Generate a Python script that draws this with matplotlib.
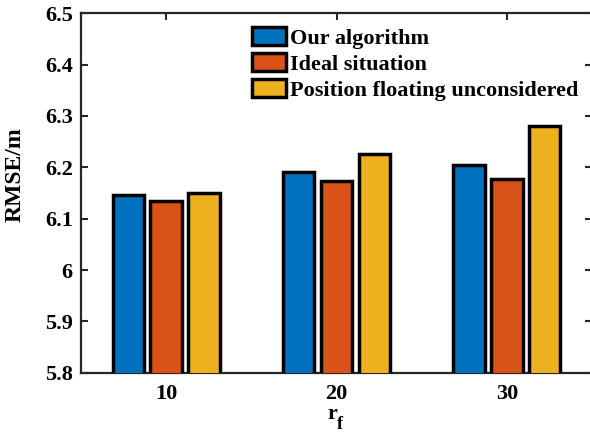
import numpy as np
import matplotlib.pyplot as plt

plt.rcParams['font.family'] = 'Liberation Serif'
plt.rcParams['font.weight'] = 'bold'

rf = [10, 20, 30]
ours = [6.146, 6.190, 6.205]
ideal = [6.134, 6.173, 6.177]
unconsidered = [6.150, 6.225, 6.280]
labels = ['Our algorithm', 'Ideal situation', 'Position floating unconsidered']
colors = ['#0072BD', '#D95319', '#EDB120']

fig = plt.figure(figsize=(5.9, 4.32), dpi=100)
ax = fig.add_axes([81/590, 1 - 372.7/432, (592 - 81)/590, (372.7 - 13.3)/432])

x = np.array(rf, dtype=float)
offset = 2.22
width = 1.85
for i, (vals, lab, c) in enumerate(zip([ours, ideal, unconsidered], labels, colors)):
    ax.bar(x + (i - 1) * offset, vals, width, color=c, edgecolor='black',
           linewidth=2.5, label=lab, zorder=3)

ax.set_xlim(5, 35)
ax.set_ylim(5.8, 6.5)
ax.set_xticks(rf)
ax.set_yticks([5.8, 5.9, 6.0, 6.1, 6.2, 6.3, 6.4, 6.5])
ax.set_yticklabels(['5.8', '5.9', '6', '6.1', '6.2', '6.3', '6.4', '6.5'])
ax.tick_params(direction='in', length=5, width=1.5, top=True, right=True,
               labelsize=16, color='#262626')
ax.tick_params(axis='x', pad=8)
ax.tick_params(axis='y', pad=6)
for lbl in ax.get_xticklabels() + ax.get_yticklabels():
    lbl.set_fontweight('bold')
for s in ax.spines.values():
    s.set_linewidth(1.6)
    s.set_color('#262626')

ax.set_ylabel('RMSE/m', fontsize=17, fontweight='bold')
ax.yaxis.set_label_coords(-0.108, 0.551)

# x label r_f with a low subscript
fig.text(332/590, 1 - 419/432, 'r', fontsize=16, fontweight='bold',
         ha='center', va='baseline')
fig.text(337/590, 1 - 429/432, 'f', fontsize=13, fontweight='bold',
         ha='left', va='baseline')

leg = ax.legend(loc='upper left', bbox_to_anchor=(0.335, 0.962), frameon=False,
                prop={'weight': 'bold', 'size': 16},
                handlelength=1.5, handleheight=0.85, handletextpad=0.2,
                labelspacing=0.2, borderaxespad=0, borderpad=0)
for h in leg.legend_handles:
    h.set_linewidth(2.5)

fig.savefig('out.png', dpi=100)
